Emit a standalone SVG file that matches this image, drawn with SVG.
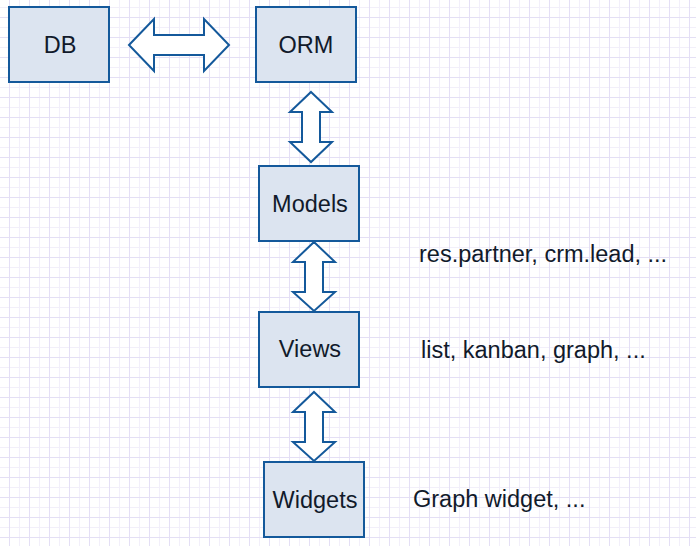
<svg xmlns="http://www.w3.org/2000/svg" width="696" height="546" viewBox="0 0 696 546">
<defs>
<pattern id="grid" x="0" y="0" width="20" height="20" patternUnits="userSpaceOnUse">
<path d="M0 7.5H20M19.5 0V20" stroke="#f2effa" stroke-width="1" fill="none"/>
<path d="M0 17.5H20M9.5 0V20" stroke="#e4dff5" stroke-width="1" fill="none"/>
</pattern>
<style>
.box{fill:#dce4f0;stroke:#14599b;stroke-width:2}
.arr{fill:#ffffff;stroke:#14599b;stroke-width:2;stroke-linejoin:miter}
.lbl{font-family:"Liberation Sans",Arial,sans-serif;font-size:23.5px;fill:#111a2b;text-anchor:middle}
.note{font-family:"Liberation Sans",Arial,sans-serif;font-size:23.5px;fill:#111a2b}
</style>
</defs>
<rect width="696" height="546" fill="#ffffff"/>
<rect width="696" height="546" fill="url(#grid)"/>
<g id="connectors">
<path class="arr" d="M129 45L154 19V35H204V19L229 45L204 71V55H154V71Z"/>
<path class="arr" d="M311 92L332 112H320V142H332L311 162L290 142H302V112H290Z"/>
<path class="arr" d="M314 242L335 262H323V292H335L314 311L293 292H305V262H293Z"/>
<path class="arr" d="M314 392L335 412H323V442H335L314 461L293 442H305V412H293Z"/>
</g>
<g id="db"><rect class="box" x="9" y="7" width="100" height="75"/><text class="lbl" x="60" y="53">DB</text></g>
<g id="orm"><rect class="box" x="256" y="7" width="100" height="75"/><text class="lbl" x="306" y="53">ORM</text></g>
<g id="models"><rect class="box" x="259" y="166" width="100" height="75"/><text class="lbl" x="310" y="212">Models</text></g>
<g id="views"><rect class="box" x="259" y="312" width="100" height="75"/><text class="lbl" x="310" y="357">Views</text></g>
<g id="widgets"><rect class="box" x="264" y="462" width="100" height="75"/><text class="lbl" x="315" y="508">Widgets</text></g>
<g id="notes">
<text class="note" x="419" y="262">res.partner, crm.lead, ...</text>
<text class="note" x="421" y="358">list, kanban, graph, ...</text>
<text class="note" x="413" y="507">Graph widget, ...</text>
</g>
</svg>
